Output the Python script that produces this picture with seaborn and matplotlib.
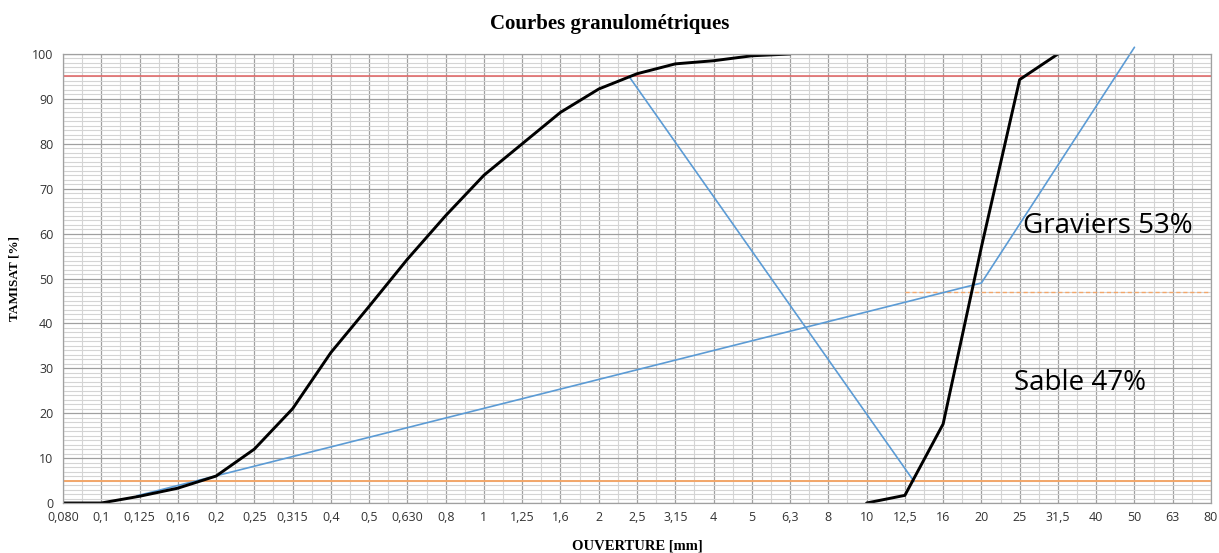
import matplotlib
matplotlib.use("Agg")
import matplotlib.pyplot as plt
import seaborn as sns
import pandas as pd
import numpy as np

# sieve openings (mm), shown as equally spaced categories
sieves = ["0,080", "0,1", "0,125", "0,16", "0,2", "0,25", "0,315", "0,4", "0,5", "0,630",
          "0,8", "1", "1,25", "1,6", "2", "2,5", "3,15", "4", "5", "6,3",
          "8", "10", "12,5", "16", "20", "25", "31,5", "40", "50", "63", "80"]

# passing percentages
sable = [0, 0, 1.5, 3.3, 6, 12, 21, 33.5, 43.8, 54.3,
         64, 73, 80, 87, 92.2, 95.6, 97.8, 98.5, 99.6, 100]
graviers = [0, 1.7, 17.6, 57, 94.3, 100]
graviers_start = 21  # index of sieve "10"

# construction lines (position in sieve index units, % passing)
diag1_x = [1.93, 24.0, 28.0]
diag1_y = [1.6, 49.0, 101.5]
diag2_x = [14.8, 22.24]
diag2_y = [94.9, 4.8]

limit_low = 5
limit_high = 95
split_level = 47
split_from = 22

sns.set_style("white")
plt.rcParams["font.family"] = ["Open Sans", "DejaVu Sans"]
plt.rcParams["text.color"] = "black"
plt.rcParams["axes.labelcolor"] = "black"

fig = plt.figure(figsize=(12.19, 5.53), dpi=100)
ax = fig.add_axes([63 / 1219, 1 - 503 / 553, (1211 - 63) / 1219, (503 - 54) / 553])

# grid
ax.set_xlim(0, len(sieves) - 1)
ax.set_ylim(0, 100)
ax.set_xticks(range(len(sieves)))
ax.set_xticks(np.arange(0.5, len(sieves) - 1, 1), minor=True)
ax.set_yticks(range(0, 101, 10))
ax.set_yticks(range(0, 101, 1), minor=True)
ax.grid(which="minor", color="#d4d4d4", lw=0.8)
ax.grid(which="major", color="#a0a0a0", lw=0.9)
ax.set_axisbelow(True)
for s in ax.spines.values():
    s.set_color("#a0a0a0")
    s.set_linewidth(0.9)

# reference levels
ax.axhline(limit_high, color="#e06060", lw=1.1)
ax.axhline(limit_low, color="#f2a66a", lw=1.4)
ax.plot([split_from, len(sieves) - 1], [split_level, split_level],
        color="#f2a66a", lw=1.0, ls=(0, (3, 2)))

# construction lines
sns.lineplot(x=diag1_x, y=diag1_y, ax=ax, color="#5b9bd5", lw=1.2, sort=False)
ax.lines[-1].set_clip_on(False)
sns.lineplot(x=diag2_x, y=diag2_y, ax=ax, color="#5b9bd5", lw=1.2, sort=False)

# grading curves
df_s = pd.DataFrame({"x": range(len(sable)), "y": sable})
df_g = pd.DataFrame({"x": range(graviers_start, graviers_start + len(graviers)), "y": graviers})
sns.lineplot(data=df_s, x="x", y="y", ax=ax, color="black", lw=2.1)
sns.lineplot(data=df_g, x="x", y="y", ax=ax, color="black", lw=2.1)

ax.set_xticklabels(sieves, fontsize=9, color="#333333")
ax.tick_params(axis="x", which="both", length=0, pad=6)
ax.tick_params(axis="y", which="major", length=4, color="#a0a0a0", labelsize=9,
               labelcolor="#333333", pad=3)
ax.tick_params(axis="y", which="minor", length=0)

serif = ["Liberation Serif", "DejaVu Serif"]
ax.set_xlabel("OUVERTURE [mm]", fontsize=10.5, fontweight="bold", family=serif, labelpad=11)
ax.set_ylabel("TAMISAT [%]", fontsize=9.5, fontweight="bold", family=serif, labelpad=8)
fig.suptitle("Courbes granulométriques", x=0.5, y=0.975, fontsize=15,
             fontweight="bold", family=serif, va="top")

ax.text(25.08, 61.7, "Graviers 53%", fontsize=20, va="center", ha="left")
ax.text(24.85, 26.7, "Sable 47%", fontsize=20, va="center", ha="left")

fig.savefig("out.png", dpi=100)
